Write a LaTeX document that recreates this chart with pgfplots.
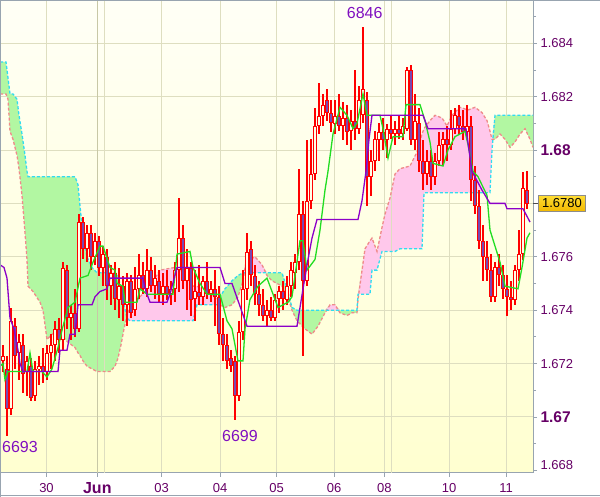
\documentclass[border=0pt]{standalone}
\usepackage{fontspec}
\setmainfont{Liberation Sans}
\usepackage{pgfplots}
\pgfplotsset{compat=1.18}
\usepgfplotslibrary{fillbetween}
\usepackage{pgfplotstable}

\definecolor{axgray}{HTML}{98A4B0}
\definecolor{gridc}{HTML}{DEDEC0}
\definecolor{junc}{HTML}{C8C8A6}
\definecolor{lblc}{HTML}{660066}
\definecolor{extc}{HTML}{8010C0}
\definecolor{cgreen}{HTML}{B2F7A2}
\definecolor{cpink}{HTML}{FFC8EB}
\definecolor{spanA}{HTML}{30DDF0}
\definecolor{spanB}{HTML}{F08A8A}
\definecolor{tenk}{HTML}{22DD22}
\definecolor{kij}{HTML}{8C00C8}
\definecolor{bearf}{HTML}{7848B0}
\definecolor{bullf}{HTML}{FFFFE8}
\definecolor{bgtop}{HTML}{FFFFF6}
\definecolor{bgbot}{HTML}{FFFFD0}
\definecolor{tagtop}{HTML}{FFDD33}
\definecolor{tagbot}{HTML}{F2B800}

\newcommand{\lf}{\fontsize{13bp}{15bp}\selectfont}
\newcommand{\bl}[1]{{\fontsize{15.5bp}{17bp}\selectfont\bfseries #1}}

\pgfplotsset{
  candle/.style 2 args={draw=none, no markers, forget plot,
    error bars/.cd, y dir=both, y explicit, error mark=none,
    error bar style={draw=#1, line width=#2, solid}},
}

\pgfplotstableread{
x o h l c
3 1.6721 1.6727 1.6717 1.6723
11 1.6703 1.6741 1.6701 1.6736
19 1.6724 1.6731 1.6714 1.6728
27 1.6717 1.6723 1.6708 1.6721
35 1.6708 1.6721 1.6706 1.6718
39 1.6718 1.6723 1.6712 1.6719
47 1.6717 1.6727 1.6714 1.6724
51 1.6724 1.6731 1.6718 1.6727
55 1.6727 1.6736 1.6721 1.6733
63 1.6729 1.6758 1.6725 1.6756
71 1.6737 1.6742 1.6729 1.6739
79 1.6733 1.6776 1.6732 1.6773
87 1.6763 1.6772 1.6758 1.6769
95 1.6760 1.6769 1.6757 1.6766
103 1.6756 1.6764 1.6749 1.6761
111 1.6749 1.6757 1.6742 1.6754
119 1.6744 1.6756 1.6737 1.6749
127 1.6742 1.6754 1.6734 1.6751
135 1.6740 1.6756 1.6738 1.6748
139 1.6748 1.6761 1.6744 1.6753
147 1.6748 1.6763 1.6745 1.6755
155 1.6749 1.6757 1.6744 1.6752
163 1.6746 1.6754 1.6742 1.6749
171 1.6746 1.6751 1.6742 1.6748
175 1.6748 1.6758 1.6743 1.6755
179 1.6755 1.6782 1.6747 1.6767
187 1.6751 1.6763 1.6740 1.6756
195 1.6744 1.6755 1.6736 1.6747
203 1.6745 1.6753 1.6742 1.6751
211 1.6746 1.6751 1.6743 1.6748
239 1.6708 1.6736 1.6706 1.6732
243 1.6732 1.6755 1.6729 1.6748
247 1.6748 1.6769 1.6744 1.6762
267 1.6738 1.6744 1.6734 1.6740
275 1.6737 1.6746 1.6736 1.6744
279 1.6744 1.6749 1.6739 1.6747
287 1.6744 1.6753 1.6742 1.6749
291 1.6749 1.6758 1.6745 1.6755
295 1.6754 1.6761 1.6748 1.6758
299 1.6758 1.6793 1.6755 1.6776
307 1.6751 1.6804 1.6749 1.6781
311 1.6781 1.6804 1.6778 1.6791
315 1.6791 1.6816 1.6789 1.6809
319 1.6809 1.6825 1.6806 1.6813
323 1.6813 1.6821 1.6809 1.6817
335 1.6810 1.6819 1.6806 1.6813
343 1.6809 1.6818 1.6804 1.6812
351 1.6807 1.6815 1.6800 1.6811
359 1.6808 1.6824 1.6806 1.6819
363 1.6813 1.6846 1.6810 1.6823
371 1.6790 1.6800 1.6783 1.6796
375 1.6796 1.6807 1.6792 1.6804
379 1.6804 1.6810 1.6796 1.6807
387 1.6804 1.6810 1.6797 1.6808
395 1.6806 1.6811 1.6802 1.6808
403 1.6806 1.6812 1.6804 1.6809
407 1.6808 1.6831 1.6807 1.6830
415 1.6804 1.6821 1.6800 1.6811
427 1.6791 1.6800 1.6787 1.6796
435 1.6790 1.6799 1.6787 1.6796
439 1.6796 1.6807 1.6794 1.6802
443 1.6802 1.6807 1.6794 1.6804
451 1.6802 1.6815 1.6800 1.6808
455 1.6808 1.6816 1.6806 1.6813
467 1.6807 1.6817 1.6805 1.6809
495 1.6745 1.6758 1.6743 1.6756
515 1.6744 1.6757 1.6742 1.6755
519 1.6755 1.6770 1.6751 1.6761
523 1.6761 1.6792 1.6759 1.6786
}\bull

\pgfplotstableread{
x o h l c
7 1.6718 1.6723 1.6693 1.6703
15 1.6734 1.6737 1.6718 1.6723
23 1.6727 1.6731 1.6709 1.6716
31 1.6719 1.6722 1.6706 1.6707
43 1.6719 1.6726 1.6713 1.6717
59 1.6733 1.6737 1.6724 1.6729
67 1.6755 1.6757 1.6733 1.6737
75 1.6739 1.6748 1.6730 1.6733
83 1.6773 1.6775 1.6759 1.6763
91 1.6769 1.6772 1.6755 1.6760
99 1.6766 1.6768 1.6753 1.6756
107 1.6760 1.6763 1.6744 1.6749
115 1.6754 1.6758 1.6740 1.6744
123 1.6749 1.6753 1.6736 1.6742
131 1.6751 1.6753 1.6737 1.6739
143 1.6753 1.6758 1.6746 1.6748
151 1.6755 1.6760 1.6747 1.6749
159 1.6751 1.6755 1.6743 1.6746
167 1.6749 1.6755 1.6744 1.6746
183 1.6767 1.6772 1.6748 1.6751
191 1.6756 1.6758 1.6738 1.6744
199 1.6747 1.6757 1.6742 1.6745
207 1.6751 1.6758 1.6744 1.6746
215 1.6748 1.6755 1.6734 1.6745
219 1.6745 1.6749 1.6727 1.6731
223 1.6731 1.6737 1.6721 1.6727
227 1.6727 1.6731 1.6718 1.6721
231 1.6722 1.6725 1.6717 1.6719
235 1.6721 1.6723 1.6699 1.6708
251 1.6763 1.6766 1.6749 1.6753
255 1.6753 1.6757 1.6742 1.6746
259 1.6746 1.6751 1.6738 1.6742
263 1.6742 1.6748 1.6736 1.6738
271 1.6740 1.6745 1.6736 1.6737
283 1.6747 1.6751 1.6740 1.6744
303 1.6776 1.6781 1.6723 1.6751
327 1.6819 1.6823 1.6811 1.6814
331 1.6814 1.6819 1.6807 1.6810
339 1.6813 1.6821 1.6807 1.6809
347 1.6812 1.6817 1.6802 1.6807
355 1.6811 1.6830 1.6804 1.6808
367 1.6819 1.6822 1.6779 1.6790
383 1.6807 1.6812 1.6800 1.6804
391 1.6808 1.6813 1.6804 1.6806
399 1.6808 1.6813 1.6804 1.6806
411 1.6830 1.6832 1.6802 1.6804
419 1.6810 1.6816 1.6792 1.6796
423 1.6796 1.6804 1.6785 1.6791
431 1.6796 1.6800 1.6785 1.6790
447 1.6804 1.6809 1.6796 1.6802
459 1.6813 1.6817 1.6806 1.6809
463 1.6809 1.6815 1.6804 1.6807
471 1.6809 1.6813 1.6781 1.6789
475 1.6789 1.6794 1.6776 1.6779
479 1.6779 1.6785 1.6763 1.6766
483 1.6766 1.6772 1.6751 1.6760
487 1.6760 1.6766 1.6751 1.6755
491 1.6755 1.6761 1.6743 1.6745
499 1.6756 1.6761 1.6749 1.6753
503 1.6753 1.6757 1.6744 1.6748
507 1.6748 1.6753 1.6738 1.6745
511 1.6745 1.6751 1.6740 1.6744
527 1.6785 1.6792 1.6778 1.6780
}\bear

\pgfplotstableread{
x A B
0 1.6833 1.6821
6 1.6833 1.6821
8 1.6827 1.6819
10 1.6821 1.6807
13 1.6821 1.6804
17 1.6819 1.6798
19 1.6813 1.6793
22 1.6806 1.6783
25 1.6798 1.6769
27 1.6792 1.6759
28 1.6790 1.6749
33 1.6790 1.6747
40 1.6790 1.6743
43 1.6790 1.6740
47 1.6790 1.6729
52 1.6790 1.6731
58 1.6790 1.6732
68 1.6790 1.6728
75 1.6790 1.6726
78 1.6787 1.6724
80 1.6779 1.6723
83 1.6768 1.6721
87 1.6760 1.6719
92 1.6756 1.6718
97 1.6754 1.6717
110 1.6754 1.6717
115 1.6754 1.6719
118 1.6753 1.6722
121 1.6748 1.6727
124 1.6742 1.6733
127 1.6737 1.6738
130 1.6736 1.6741
140 1.6736 1.6745
150 1.6736 1.6749
160 1.6736 1.6755
175 1.6736 1.6756
185 1.6736 1.6754
193 1.6736 1.6749
197 1.6742 1.6749
210 1.6742 1.6746
217 1.6742 1.6744
220 1.6745 1.6742
225 1.6748 1.6741
232 1.6751 1.6742
238 1.6753 1.6745
243 1.6754 1.6751
246 1.6754 1.6758
255 1.6754 1.6760
262 1.6754 1.6757
267 1.6754 1.6753
272 1.6754 1.6751
282 1.6754 1.6749
287 1.6748 1.6746
292 1.6741 1.6740
297 1.6740 1.6736
305 1.6740 1.6733
312 1.6740 1.6731
318 1.6740 1.6734
325 1.6740 1.6739
330 1.6740 1.6742
335 1.6740 1.6742
340 1.6740 1.6739
347 1.6740 1.6738
352 1.6740 1.6739
357 1.6740 1.6739
358 1.6746 1.6744
365 1.6746 1.6763
370 1.6746 1.6766
372 1.6755 1.6767
377 1.6755 1.6762
382 1.6762 1.6771
385 1.6762 1.6776
390 1.6762 1.6782
395 1.6762 1.6791
400 1.6763 1.6793
410 1.6763 1.6794
418 1.6763 1.6800
422 1.6763 1.6806
424 1.6784 1.6808
430 1.6784 1.6811
435 1.6784 1.6813
442 1.6784 1.6812
447 1.6784 1.6809
452 1.6784 1.6813
460 1.6784 1.6816
468 1.6784 1.6815
475 1.6784 1.6816
482 1.6784 1.6814
487 1.6784 1.6811
490 1.6784 1.6807
492 1.6800 1.6804
495 1.6813 1.6804
500 1.6813 1.6806
505 1.6813 1.6804
510 1.6813 1.6801
515 1.6813 1.6803
520 1.6813 1.6806
525 1.6813 1.6808
530 1.6813 1.6804
533 1.6813 1.6801
}\cloud

\pgfplotstableread{
x y
0 1.6757
4 1.6756
7 1.6752
10 1.6737
14 1.6733
18 1.6725
20 1.6720
23 1.6717
58 1.6717
60 1.6725
67 1.6725
70 1.6731
75 1.6731
78 1.6742
92 1.6742
95 1.6745
100 1.6747
107 1.6748
110 1.6752
143 1.6752
146 1.6747
150 1.6743
167 1.6743
170 1.6746
177 1.6756
220 1.6756
225 1.6750
232 1.6750
247 1.6734
297 1.6734
303 1.6748
308 1.6759
312 1.6767
317 1.6774
358 1.6774
362 1.6781
366 1.6792
369 1.6804
372 1.6813
423 1.6813
428 1.6808
466 1.6808
469 1.6800
472 1.6792
482 1.6785
490 1.6780
505 1.6780
507 1.6778
523 1.6778
530 1.6773
}\kijun

\pgfplotstableread{
x y
0 1.6719
3 1.6720
5 1.6714
8 1.6717
27 1.6717
30 1.6724
33 1.6717
42 1.6717
47 1.6715
52 1.6718
58 1.6726
63 1.6734
68 1.6741
75 1.6743
80 1.6752
88 1.6753
93 1.6758
100 1.6764
103 1.6764
110 1.6756
115 1.6755
117 1.6750
123 1.6749
125 1.6743
137 1.6743
140 1.6748
147 1.6746
173 1.6746
177 1.6761
190 1.6762
193 1.6756
200 1.6750
207 1.6746
220 1.6746
227 1.6736
232 1.6733
238 1.6721
243 1.6721
245 1.6733
250 1.6744
258 1.6749
267 1.6752
278 1.6741
288 1.6743
292 1.6745
300 1.6766
303 1.6766
307 1.6755
315 1.6759
320 1.6770
325 1.6785
328 1.6792
333 1.6806
340 1.6816
347 1.6813
353 1.6808
357 1.6810
363 1.6821
367 1.6813
380 1.6813
383 1.6808
388 1.6797
393 1.6805
403 1.6805
406 1.6817
420 1.6817
425 1.6811
430 1.6803
433 1.6795
443 1.6794
448 1.6800
455 1.6805
465 1.6807
468 1.6802
473 1.6792
478 1.6790
487 1.6783
490 1.6770
495 1.6764
500 1.6758
505 1.6749
518 1.6748
522 1.6756
527 1.6767
530 1.6769
}\tenkan

\begin{document}
\begin{tikzpicture}[x=1bp,y=1bp]
\begin{axis}[
  at={(0bp,24bp)}, anchor=south west,
  scale only axis, width=533bp, height=473bp,
  xmin=0, xmax=533, ymin=1.6679, ymax=1.68562,
  axis background/.style={top color=bgtop, bottom color=bgbot},
  axis line style={axgray, line width=1bp},
  tick style={axgray, line width=0.8bp},
  tick align=outside,
  major tick length=4bp, minor tick length=3bp,
  xtick pos=left, ytick pos=right, yticklabel pos=right,
  xtick={46.5,97.3,161.7,220,276.7,334,384.3,449,506},
  xticklabels={30,{\fontsize{16bp}{18bp}\selectfont\bfseries Jun},03,04,05,06,08,10,11},
  ytick={1.670,1.672,1.674,1.676,1.678,1.680,1.682,1.684},
  yticklabels={\bl{1.67},1.672,1.674,1.676,{},\bl{1.68},1.682,1.684},
  minor ytick={1.669,1.671,1.673,1.675,1.677,1.679,1.681,1.683,1.685},
  extra y ticks={1.668},
  extra y tick labels={\raisebox{10bp}{1.668}},
  extra y tick style={grid=none},
  xmajorgrids, ymajorgrids,
  grid style={gridc, line width=0.9bp},
  xticklabel style={font=\lf, text=lblc, anchor=center, yshift=-11bp},
  yticklabel style={font=\lf, text=lblc, anchor=west},
]
\draw[gridc, line width=0.9bp] (axis cs:104.3,1.6679) -- (axis cs:104.3,1.68562);
\draw[gridc, line width=0.9bp] (axis cs:391.7,1.6679) -- (axis cs:391.7,1.68562);
\draw[junc, line width=0.9bp] (axis cs:97.3,1.6679) -- (axis cs:97.3,1.68562);

% Ichimoku cloud
\addplot[draw=none, name path=pA] table[x=x,y=A] {\cloud};
\addplot[draw=none, name path=pB] table[x=x,y=B] {\cloud};
\addplot[draw=none, name path=pM] table[x=x, y expr={max(\thisrow{A},\thisrow{B})}] {\cloud};
\addplot[fill=cgreen, draw=none] fill between[of=pM and pB];
\addplot[fill=cpink, draw=none] fill between[of=pM and pA];
\addplot[spanB, line width=1.3bp, dash pattern=on 3bp off 2bp] table[x=x,y=B] {\cloud};
\addplot[spanA, line width=1.3bp, dash pattern=on 3bp off 2bp] table[x=x,y=A] {\cloud};

% wicks
\addplot[candle={red}{1.1bp}]
  table[x=x, y expr={(\thisrow{h}+\thisrow{l})/2}, y error expr={(\thisrow{h}-\thisrow{l})/2}] {\bull};
\addplot[candle={red}{1.1bp}]
  table[x=x, y expr={(\thisrow{h}+\thisrow{l})/2}, y error expr={(\thisrow{h}-\thisrow{l})/2}] {\bear};
% bodies outline
\addplot[candle={red}{4.6bp}]
  table[x=x, y expr={(\thisrow{o}+\thisrow{c})/2}, y error expr={max(abs(\thisrow{o}-\thisrow{c})/2,0.00002)}] {\bull};
\addplot[candle={red}{4.6bp}]
  table[x=x, y expr={(\thisrow{o}+\thisrow{c})/2}, y error expr={max(abs(\thisrow{o}-\thisrow{c})/2,0.00002)}] {\bear};
% bodies inside
\addplot[candle={bullf}{2.5bp}]
  table[x=x, y expr={(\thisrow{o}+\thisrow{c})/2}, y error expr={max(abs(\thisrow{o}-\thisrow{c})/2-0.0000375,0)}] {\bull};
\addplot[candle={bearf}{2.5bp}]
  table[x=x, y expr={(\thisrow{o}+\thisrow{c})/2}, y error expr={max(abs(\thisrow{o}-\thisrow{c})/2-0.0000375,0)}] {\bear};

% tenkan / kijun
\addplot[tenk, line width=1.3bp, mark=none] table[x=x,y=y] {\tenkan};
\addplot[kij, line width=1.3bp, mark=none] table[x=x,y=y] {\kijun};
\end{axis}

% extremes
\node[text=extc, font=\fontsize{16bp}{18bp}\selectfont] at (364.7bp,484.5bp) {6846};
\node[text=extc, font=\fontsize{16bp}{18bp}\selectfont] at (20bp,50.3bp) {6693};
\node[text=extc, font=\fontsize{16bp}{18bp}\selectfont] at (240bp,61bp) {6699};

% price tag
\draw[black!70, line width=1bp] (533bp,293.5bp) -- (538bp,293.5bp);
\node[draw=black!45, line width=1bp, top color=tagtop, bottom color=tagbot, inner sep=0pt,
  minimum width=47bp, minimum height=16bp, anchor=west, font=\lf, text=black] at (538bp,293.5bp) {1.6780};

% outer frame
\draw[axgray, line width=1bp] (0.5bp,0bp) -- (0.5bp,497bp);
\draw[axgray, line width=1bp] (0bp,496.5bp) -- (600bp,496.5bp);
\draw[axgray, line width=1bp] (0bp,1.5bp) -- (600bp,1.5bp);
\pgfresetboundingbox
\path[use as bounding box] (0bp,0bp) rectangle (600bp,497bp);
\end{tikzpicture}
\end{document}
